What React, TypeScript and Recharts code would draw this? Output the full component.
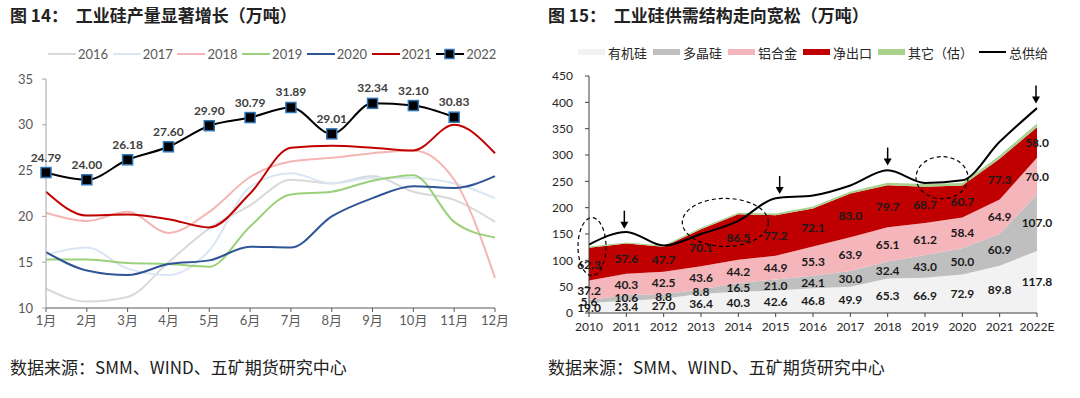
import React from 'react'
import { LineChart, Line, XAxis, YAxis, ComposedChart, Area, ReferenceDot } from 'recharts'

const FONT = "Lato, 'Noto Sans CJK SC', sans-serif"
const CJK = "'Noto Sans CJK SC', sans-serif"

// 图14 工业硅月度产量（万吨）
const months = ['1月', '2月', '3月', '4月', '5月', '6月', '7月', '8月', '9月', '10月', '11月', '12月']
const p2016 = [12.1, 10.7, 11.2, 15.0, 18.7, 21.2, 24.0, 23.6, 24.4, 22.7, 21.8, 19.4]
const p2017 = [15.8, 16.6, 14.3, 13.6, 16.3, 23.2, 24.7, 23.6, 24.2, 24.2, 23.6, 22.0]
const p2018 = [20.4, 19.5, 20.5, 18.2, 20.5, 24.3, 26.0, 26.4, 26.9, 27.2, 24.0, 13.3]
const p2019 = [15.3, 15.3, 14.9, 14.8, 14.5, 18.9, 22.4, 22.7, 23.9, 24.5, 19.4, 17.7]
const p2020 = [16.1, 14.1, 13.6, 14.8, 15.2, 16.7, 16.6, 20.0, 22.0, 23.3, 23.1, 24.4]
const p2021 = [22.7, 20.1, 20.2, 19.7, 18.8, 22.5, 27.5, 27.7, 27.5, 27.2, 30.0, 26.9]
const p2022 = [24.79, 24.0, 26.18, 27.6, 29.9, 30.79, 31.89, 29.01, 32.34, 32.1, 30.83, null]
const yearNames = ['2016', '2017', '2018', '2019', '2020', '2021', '2022']
const yearColors = ['#d9d9d9', '#dae6f5', '#f4b5b5', '#9bd07a', '#2f5597', '#c00000', '#000000']

const monthly = months.map((m, i) => ({
  month: m,
  y2016: p2016[i],
  y2017: p2017[i],
  y2018: p2018[i],
  y2019: p2019[i],
  y2020: p2020[i],
  y2021: p2021[i],
  y2022: p2022[i],
}))

// 图15 工业硅供需结构（万吨）
const supplyYears = ['2010', '2011', '2012', '2013', '2014', '2015', '2016', '2017', '2018', '2019', '2020', '2021', '2022E']
const organic = [19.0, 23.4, 27.0, 36.4, 40.3, 42.6, 46.8, 49.9, 65.3, 66.9, 72.9, 89.8, 117.8]
const poly = [5.6, 10.6, 8.8, 8.8, 16.5, 21.0, 24.1, 30.0, 32.4, 43.0, 50.0, 60.9, 107.0]
const alloy = [37.2, 40.3, 42.5, 43.6, 44.2, 44.9, 55.3, 63.9, 65.1, 61.2, 58.4, 64.9, 70.0]
const netExport = [62.3, 57.6, 47.7, 70.1, 86.5, 77.2, 72.1, 83.0, 79.7, 68.7, 60.7, 77.3, 58.0]
const others = [2, 2, 2, 3, 3, 3, 4, 4, 5, 5, 5, 6, 7]
const totalSupply = [130, 154, 128, 150, 175, 218, 223, 242, 271, 247, 252, 325, 389]
const bandNames = ['有机硅', '多晶硅', '铝合金', '净出口', '其它（估）', '总供给']
const bandColors = ['#f2f2f2', '#bfbfbf', '#f4b6bb', '#c00000', '#a9d18e', '#000000']

const supply = supplyYears.map((y, i) => ({
  year: y,
  organic: organic[i],
  poly: poly[i],
  alloy: alloy[i],
  netExport: netExport[i],
  others: others[i],
  total: totalSupply[i],
  mOrganic: organic[i] / 2,
  mPoly: organic[i] + poly[i] / 2,
  mAlloy: organic[i] + poly[i] + alloy[i] / 2,
  mExport: organic[i] + poly[i] + alloy[i] + netExport[i] / 2,
}))

const Marker2022 = (props: any) => {
  const { cx, cy, payload, index } = props
  if (payload == null || payload.y2022 == null || cx == null) return <g key={`m-${index}`} />
  return (
    <g key={`m-${index}`}>
      <rect x={cx - 5} y={cy - 5} width={10} height={10} fill="#000" stroke="#2e75b6" strokeWidth={1.5} />
      <text x={cx} y={cy - 11} textAnchor="middle" fontSize={12} fontWeight={700} fill="#404040" fontFamily={FONT}>
        {payload.y2022.toFixed(2)}
      </text>
    </g>
  )
}

const bandLabel = (key: string) => (props: any) => {
  const { cx, cy, payload, index } = props
  return (
    <text key={`${key}-${index}`} x={cx} y={cy + 4.5} textAnchor="middle" fontSize={12} fontWeight={700} fill="#1a1a1a" fontFamily={FONT}>
      {payload[key].toFixed(1)}
    </text>
  )
}

const ellipse = (dx: number, rx: number, ry: number) => (props: any) => (
  <ellipse cx={props.cx + dx} cy={props.cy} rx={rx} ry={ry} fill="none" stroke="#000" strokeWidth={1.2} strokeDasharray="4 3" />
)

const arrow = (dx: number) => (props: any) => {
  const x = props.cx + dx
  const y = props.cy
  return (
    <g>
      <line x1={x} y1={y - 18} x2={x} y2={y - 6} stroke="#000" strokeWidth={1.5} />
      <path d={`M${x - 4},${y - 7} L${x + 4},${y - 7} L${x},${y} Z`} fill="#000" />
    </g>
  )
}

const tickStyle = { fontSize: 13, fill: '#595959', fontFamily: FONT }

export default function App() {
  return (
    <div style={{ position: 'absolute', left: 0, top: 0, width: 1080, height: 398, background: '#fff', fontFamily: CJK }}>
      <div style={{ position: 'absolute', left: 10, top: 2, fontSize: 17, fontWeight: 700, color: '#222', whiteSpace: 'pre' }}>
        {'图 14：  工业硅产量显著增长（万吨）'}
      </div>
      <div style={{ position: 'absolute', left: 548, top: 2, fontSize: 17, fontWeight: 700, color: '#222', whiteSpace: 'pre' }}>
        {'图 15：  工业硅供需结构走向宽松（万吨）'}
      </div>

      {/* left legend */}
      {yearNames.map((n, i) => (
        <div key={n} style={{ position: 'absolute', left: 48 + i * 64.7, top: 45, height: 18, display: 'flex', alignItems: 'center' }}>
          <svg width={28} height={12}>
            <line x1={0} y1={6} x2={28} y2={6} stroke={yearColors[i]} strokeWidth={2} />
            {n === '2022' && <rect x={9} y={1.5} width={9} height={9} fill="#000" stroke="#2e75b6" strokeWidth={1.5} />}
          </svg>
          <span style={{ marginLeft: 2, fontSize: 13, color: '#595959', fontFamily: FONT }}>{n}</span>
        </div>
      ))}

      {/* right legend */}
      <div style={{ position: 'absolute', left: 578, top: 43, height: 18, display: 'flex', alignItems: 'center', gap: 6 }}>
        {bandNames.map((n, i) => (
          <div key={n} style={{ display: 'flex', alignItems: 'center' }}>
            <svg width={27} height={10}>
              {i === 5 ? (
                <line x1={0} y1={5} x2={27} y2={5} stroke="#000" strokeWidth={2} />
              ) : (
                <rect x={0} y={2} width={27} height={6} fill={bandColors[i]} />
              )}
            </svg>
            <span style={{ marginLeft: 3, fontSize: 13, color: '#262626' }}>{n}</span>
          </div>
        ))}
      </div>

      <div style={{ position: 'absolute', left: 0, top: 0 }}>
        <LineChart width={540} height={340} data={monthly} margin={{ top: 79, right: 45, bottom: 2, left: 0 }}>
          <XAxis
            dataKey="month"
            scale="point"
            padding={{ left: 0, right: 0 }}
            interval={0}
            height={30}
            tickSize={4}
            tickMargin={4}
            stroke="#595959"
            tick={tickStyle}
          />
          <YAxis
            domain={[10, 35]}
            ticks={[10, 15, 20, 25, 30, 35]}
            width={46}
            tickSize={4}
            tickMargin={9}
            stroke="#a6a6a6"
            tick={tickStyle}
          />
          {['y2016', 'y2017', 'y2018', 'y2019', 'y2020', 'y2021'].map((k, i) => (
            <Line key={k} dataKey={k} type="monotone" stroke={yearColors[i]} strokeWidth={2} dot={false} activeDot={false} isAnimationActive={false} />
          ))}
          <Line dataKey="y2022" type="monotone" stroke="#000" strokeWidth={2} dot={Marker2022} activeDot={false} isAnimationActive={false} />
        </LineChart>
      </div>

      <div style={{ position: 'absolute', left: 540, top: 0 }}>
        <ComposedChart width={540} height={345} data={supply} margin={{ top: 76, right: 43, bottom: 2, left: 0 }}>
          <XAxis
            dataKey="year"
            scale="point"
            padding={{ left: 0, right: 0 }}
            interval={0}
            height={30}
            tickSize={4}
            tickMargin={5}
            stroke="#404040"
            tick={{ fontSize: 12, fill: '#262626', fontFamily: FONT }}
          />
          <YAxis
            domain={[0, 450]}
            ticks={[0, 50, 100, 150, 200, 250, 300, 350, 400, 450]}
            width={49}
            tickSize={4}
            tickMargin={12}
            stroke="#404040"
            tick={{ fontSize: 12, fill: '#262626', fontFamily: FONT }}
          />
          <Area dataKey="organic" stackId="s" type="linear" fill={bandColors[0]} fillOpacity={1} stroke="none" isAnimationActive={false} />
          <Area dataKey="poly" stackId="s" type="linear" fill={bandColors[1]} fillOpacity={1} stroke="none" isAnimationActive={false} />
          <Area dataKey="alloy" stackId="s" type="linear" fill={bandColors[2]} fillOpacity={1} stroke="none" isAnimationActive={false} />
          <Area dataKey="netExport" stackId="s" type="linear" fill={bandColors[3]} fillOpacity={1} stroke="none" isAnimationActive={false} />
          <Area dataKey="others" stackId="s" type="linear" fill={bandColors[4]} fillOpacity={1} stroke="none" isAnimationActive={false} />
          <Line dataKey="total" type="monotone" stroke="#000" strokeWidth={2} dot={false} activeDot={false} isAnimationActive={false} />
          <Line dataKey="mOrganic" stroke="none" dot={bandLabel('organic')} activeDot={false} isAnimationActive={false} />
          <Line dataKey="mPoly" stroke="none" dot={bandLabel('poly')} activeDot={false} isAnimationActive={false} />
          <Line dataKey="mAlloy" stroke="none" dot={bandLabel('alloy')} activeDot={false} isAnimationActive={false} />
          <Line dataKey="mExport" stroke="none" dot={bandLabel('netExport')} activeDot={false} isAnimationActive={false} />
          <ReferenceDot x="2010" y={126} r={1} shape={ellipse(3, 14, 29)} />
          <ReferenceDot x="2014" y={172} r={1} shape={ellipse(-13, 43, 24)} />
          <ReferenceDot x="2019" y={257} r={1} shape={ellipse(17, 26, 21)} />
          <ReferenceDot x="2011" y={160} r={1} shape={arrow(-2)} />
          <ReferenceDot x="2015" y={226} r={1} shape={arrow(4)} />
          <ReferenceDot x="2018" y={280} r={1} shape={arrow(0)} />
          <ReferenceDot x="2022E" y={398} r={1} shape={arrow(-1)} />
        </ComposedChart>
      </div>

      <div style={{ position: 'absolute', left: 10, top: 354, fontSize: 17, color: '#222' }}>数据来源：SMM、WIND、五矿期货研究中心</div>
      <div style={{ position: 'absolute', left: 548, top: 354, fontSize: 17, color: '#222' }}>数据来源：SMM、WIND、五矿期货研究中心</div>
    </div>
  )
}
